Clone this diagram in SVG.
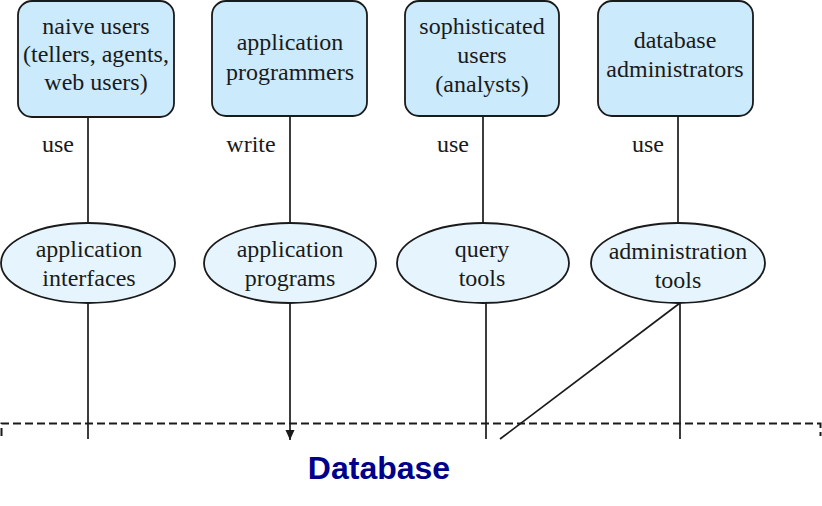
<svg xmlns="http://www.w3.org/2000/svg" width="822" height="506" viewBox="0 0 822 506">
<style>
.box{fill:#cbeafb;stroke:#1a1a1a;stroke-width:1.8}
.ell{fill:#e6f5fd;stroke:#1a1a1a;stroke-width:1.8}
.t{font-family:"Liberation Serif",serif;font-size:24px;fill:#1a1a1a;text-anchor:middle}
.c{stroke:#1a1a1a;stroke-width:1.7;fill:none}
.db{font-family:"Liberation Sans",Arial,sans-serif;font-weight:bold;font-size:32px;fill:#00008b;text-anchor:middle}
</style>
<defs>
<marker id="ah" markerWidth="12" markerHeight="12" refX="10" refY="5" orient="auto" markerUnits="userSpaceOnUse">
<path d="M0,0.5 L10,5 L0,9.5 Z" fill="#1a1a1a"/>
</marker>
</defs>
<rect width="822" height="506" fill="#fff"/>
<g id="connectors">
<line class="c" x1="88" y1="117" x2="88" y2="223"/>
<line class="c" x1="290" y1="116" x2="290" y2="223"/>
<line class="c" x1="483" y1="116" x2="483" y2="223"/>
<line class="c" x1="678" y1="116" x2="678" y2="223"/>
<line class="c" x1="88" y1="303" x2="88" y2="439"/>
<line class="c" x1="290" y1="303" x2="290" y2="440" marker-end="url(#ah)"/>
<line class="c" x1="486" y1="303" x2="486" y2="439"/>
<line class="c" x1="680" y1="303" x2="680" y2="439"/>
<line class="c" x1="680" y1="303" x2="500" y2="439"/>
<text class="t" x="58" y="152">use</text>
<text class="t" x="251" y="152">write</text>
<text class="t" x="453" y="152">use</text>
<text class="t" x="648" y="152">use</text>
</g>
<g id="database">
<path d="M1.5,436 V423.5 H820.5 V436" fill="none" stroke="#1a1a1a" stroke-width="2" stroke-dasharray="8,4"/>
<text class="db" x="379" y="479">Database</text>
</g>
<g id="naive-users">
<rect class="box" x="18" y="1" width="156" height="116" rx="14"/>
<text class="t" x="96" y="34">naive users</text>
<text class="t" x="96" y="62">(tellers, agents,</text>
<text class="t" x="96" y="90">web users)</text>
</g>
<g id="app-programmers">
<rect class="box" x="212" y="1" width="155" height="115" rx="14"/>
<text class="t" x="290" y="50">application</text>
<text class="t" x="290" y="80">programmers</text>
</g>
<g id="sophisticated-users">
<rect class="box" x="405" y="1" width="154" height="115" rx="14"/>
<text class="t" x="482" y="34">sophisticated</text>
<text class="t" x="482" y="63">users</text>
<text class="t" x="482" y="92">(analysts)</text>
</g>
<g id="db-admins">
<rect class="box" x="598" y="1" width="155" height="115" rx="14"/>
<text class="t" x="675" y="48">database</text>
<text class="t" x="675" y="77">administrators</text>
</g>
<g id="app-interfaces">
<ellipse class="ell" cx="88" cy="263" rx="87" ry="40"/>
<text class="t" x="89" y="257">application</text>
<text class="t" x="89" y="286">interfaces</text>
</g>
<g id="app-programs">
<ellipse class="ell" cx="290" cy="263" rx="86" ry="40"/>
<text class="t" x="290" y="257">application</text>
<text class="t" x="290" y="286">programs</text>
</g>
<g id="query-tools">
<ellipse class="ell" cx="483" cy="263" rx="86" ry="40"/>
<text class="t" x="482" y="257">query</text>
<text class="t" x="482" y="286">tools</text>
</g>
<g id="admin-tools">
<ellipse class="ell" cx="678" cy="263" rx="87" ry="40"/>
<text class="t" x="678" y="259">administration</text>
<text class="t" x="678" y="288">tools</text>
</g>
</svg>
